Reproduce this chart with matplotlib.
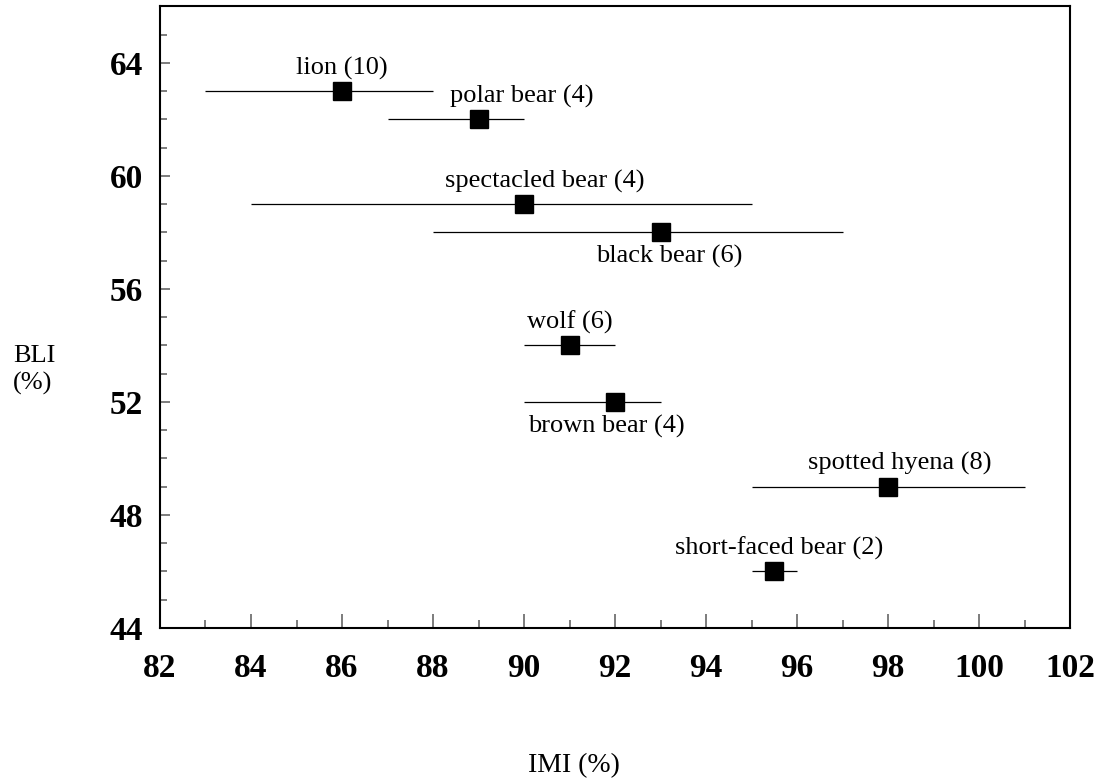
import matplotlib.pyplot as plt
from matplotlib.ticker import MultipleLocator

plt.rcParams['font.family'] = ['Liberation Serif', 'DejaVu Serif']

# species, IMI mean, BLI mean, IMI range
species = ["lion (10)", "polar bear (4)", "spectacled bear (4)", "black bear (6)",
           "wolf (6)", "brown bear (4)", "spotted hyena (8)", "short-faced bear (2)"]
imi = [86, 89, 90, 93, 91, 92, 98, 95.5]
bli = [63, 62, 59, 58, 54, 52, 49, 46]
imi_lo = [83, 87, 84, 88, 90, 90, 95, 95]
imi_hi = [88, 90, 95, 97, 92, 93, 101, 96]

# label placement: above (1) / below (-1), and horizontal nudge
label_side = [1, 1, 1, -1, 1, -1, 1, 1]
label_dx = [0, 0.95, 0.46, 0.18, 0, -0.2, 0.26, 0.1]

fig = plt.figure(figsize=(10.98, 7.84), dpi=100)
ax = fig.add_axes([0.1457, 0.199, 0.829, 0.793])

xerr = [[m - lo for m, lo in zip(imi, imi_lo)], [hi - m for m, hi in zip(imi, imi_hi)]]
ax.errorbar(imi, bli, xerr=xerr, fmt='s', color='black', ms=13, elinewidth=0.9,
            capsize=0, ecolor='black')

for name, x, y, s, dx in zip(species, imi, bli, label_side, label_dx):
    if s > 0:
        ax.text(x + dx, y + 0.4, name, ha='center', va='bottom', fontsize=19)
    else:
        ax.text(x + dx, y - 0.45, name, ha='center', va='top', fontsize=19)

ax.set_xlim(82, 102)
ax.set_ylim(44, 66)
ax.xaxis.set_major_locator(MultipleLocator(2))
ax.xaxis.set_minor_locator(MultipleLocator(1))
ax.yaxis.set_minor_locator(MultipleLocator(1))
ax.set_yticks([44, 48, 52, 56, 60, 64])

ax.tick_params(which='both', direction='in', top=False, right=False, color='#666666')
ax.tick_params(axis='x', which='major', length=10, width=1.2, pad=18, labelsize=24)
ax.tick_params(axis='x', which='minor', length=6, width=1.2)
ax.tick_params(axis='y', which='major', length=7, width=1.2, pad=12, labelsize=24)
ax.tick_params(axis='y', which='minor', length=5, width=1.2)
for lab in ax.get_xticklabels() + ax.get_yticklabels():
    lab.set_fontweight('bold')
for sp in ax.spines.values():
    sp.set_linewidth(1.5)

fig.text(0.012, 0.528, "BLI\n(%)", ha='left', va='center', fontsize=19, linespacing=1.25)
fig.text(0.523, 0.024, "IMI (%)", ha='center', va='center', fontsize=20)

fig.savefig("out.png", dpi=100)
